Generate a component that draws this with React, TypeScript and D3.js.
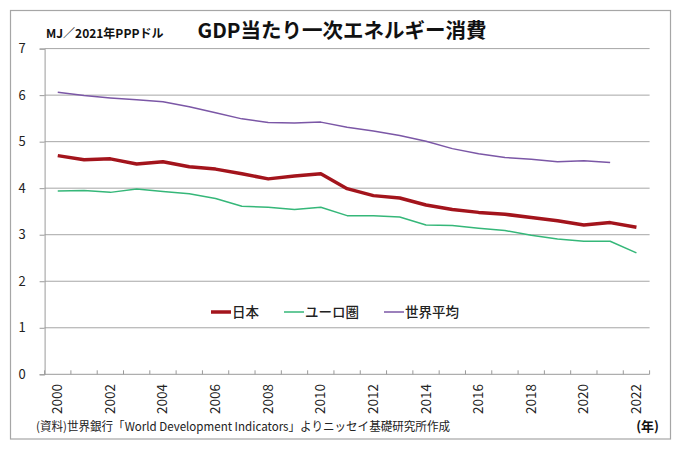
import React, { useEffect, useRef } from 'react';
import * as d3 from 'd3';

const years = d3.range(2000, 2023).map(String);
const yTicks = [0, 1, 2, 3, 4, 5, 6, 7];

const japan = [4.70, 4.61, 4.63, 4.52, 4.57, 4.46, 4.41, 4.31, 4.20, 4.26, 4.31, 3.99, 3.84, 3.79, 3.64, 3.54, 3.48, 3.44, 3.37, 3.30, 3.21, 3.26, 3.16];
const euro = [3.94, 3.95, 3.91, 3.98, 3.93, 3.88, 3.78, 3.61, 3.59, 3.54, 3.59, 3.41, 3.41, 3.38, 3.21, 3.20, 3.14, 3.09, 2.99, 2.91, 2.86, 2.86, 2.61];
const world = [6.06, 5.99, 5.94, 5.90, 5.86, 5.75, 5.62, 5.49, 5.41, 5.40, 5.42, 5.31, 5.23, 5.13, 5.01, 4.85, 4.74, 4.66, 4.62, 4.57, 4.59, 4.55, null];

const seriesNames = ['日本', 'ユーロ圏', '世界平均'];
const seriesColors = ['#a3141c', '#35b779', '#7b57a6'];
const seriesWidths = [3.5, 1.5, 1.5];

const FONT = '"Noto Sans CJK JP", "Noto Sans", sans-serif';

const App: React.FC = () => {
  const ref = useRef<SVGSVGElement>(null);

  useEffect(() => {
    if (!ref.current) return;
    const svg = d3.select(ref.current);
    svg.selectAll('*').remove();

    const x = d3.scaleBand().domain(years).range([44.6, 649.6]).padding(0);
    const y = d3.scaleLinear().domain([0, 7]).range([374.3, 48.6]);
    const cx = (yr: string) => (x(yr) || 0) + x.bandwidth() / 2;

    // frame
    svg.append('rect')
      .attr('x', 10.5).attr('y', 10.5)
      .attr('width', 660).attr('height', 428.5)
      .attr('fill', '#fff').attr('stroke', '#a6a6a6').attr('stroke-width', 1.2);

    // grid lines
    svg.append('g')
      .selectAll('line')
      .data(yTicks.filter(t => t > 0))
      .enter()
      .append('line')
        .attr('x1', 44.6).attr('x2', 649.6)
        .attr('y1', d => y(d)).attr('y2', d => y(d))
        .attr('stroke', '#a6a6a6').attr('stroke-width', 1);

    // y axis
    const yAxis = svg.append('g')
      .attr('transform', 'translate(44.6,0)')
      .call(d3.axisLeft(y).tickValues(yTicks).tickFormat(d3.format('d')).tickSize(5).tickPadding(14));
    yAxis.select('.domain').attr('stroke', '#9a9a9a');
    yAxis.selectAll('.tick line').attr('stroke', '#9a9a9a');
    yAxis.selectAll('text')
      .attr('font-family', FONT).attr('font-size', '13px').attr('fill', '#222');

    // x axis (ticks at category boundaries, pointing up)
    const xg = svg.append('g');
    xg.append('line')
      .attr('x1', 44.6).attr('x2', 649.6)
      .attr('y1', y(0)).attr('y2', y(0))
      .attr('stroke', '#9a9a9a');
    xg.selectAll('.tk')
      .data(years.concat(['end']))
      .enter()
      .append('line')
        .attr('x1', d => d === 'end' ? 649.6 : (x(d) || 0))
        .attr('x2', d => d === 'end' ? 649.6 : (x(d) || 0))
        .attr('y1', y(0) - 4).attr('y2', y(0))
        .attr('stroke', '#9a9a9a');
    xg.selectAll('.lbl')
      .data(years.filter((_, i) => i % 2 === 0))
      .enter()
      .append('text')
        .attr('transform', d => `translate(${cx(d) + 4.5},384) rotate(-90)`)
        .attr('text-anchor', 'end')
        .attr('font-family', FONT).attr('font-size', '13.5px').attr('fill', '#222')
        .text(d => d);

    // lines
    const series = [japan, euro, world];
    series.forEach((vals, i) => {
      const line = d3.line<number | null>()
        .defined(d => d !== null)
        .x((_, j) => cx(years[j]))
        .y(d => y(d as number));
      svg.append('path')
        .datum(vals)
        .attr('d', line)
        .attr('fill', 'none')
        .attr('stroke', seriesColors[i])
        .attr('stroke-width', seriesWidths[i])
        .attr('stroke-linejoin', 'round');
    });

    // legend
    const legendX = [211, 284, 384];
    seriesNames.forEach((name, i) => {
      const g = svg.append('g').attr('transform', `translate(${legendX[i]},312)`);
      g.append('line')
        .attr('x1', 0).attr('x2', 20).attr('y1', 0).attr('y2', 0)
        .attr('stroke', seriesColors[i]).attr('stroke-width', seriesWidths[i]);
      g.append('text')
        .attr('x', 21).attr('y', 5)
        .attr('font-family', FONT).attr('font-size', '13.5px').attr('font-weight', 500).attr('fill', '#222')
        .text(name);
    });

    // titles
    svg.append('text')
      .attr('x', 342).attr('y', 38)
      .attr('text-anchor', 'middle')
      .attr('font-family', FONT).attr('font-size', '20.5px').attr('font-weight', 'bold').attr('fill', '#111')
      .text('GDP当たり一次エネルギー消費');
    svg.append('text')
      .attr('x', 46).attr('y', 38)
      .attr('font-family', FONT).attr('font-size', '12px').attr('font-weight', 'bold').attr('fill', '#111')
      .text('MJ／2021年PPPドル');

    // footer
    svg.append('text')
      .attr('x', 36).attr('y', 431)
      .attr('font-family', FONT).attr('font-size', '12px').attr('fill', '#222')
      .attr('textLength', 414).attr('lengthAdjust', 'spacingAndGlyphs')
      .text('(資料)世界銀行「World Development Indicators」よりニッセイ基礎研究所作成');
    svg.append('text')
      .attr('x', 659).attr('y', 431)
      .attr('text-anchor', 'end')
      .attr('font-family', FONT).attr('font-size', '13px').attr('font-weight', 'bold').attr('fill', '#111')
      .text('(年)');
  }, []);

  return (
    <svg ref={ref} width={680} height={450}
      style={{ position: 'absolute', left: 0, top: 0, background: '#fff' }} />
  );
};

export default App;
